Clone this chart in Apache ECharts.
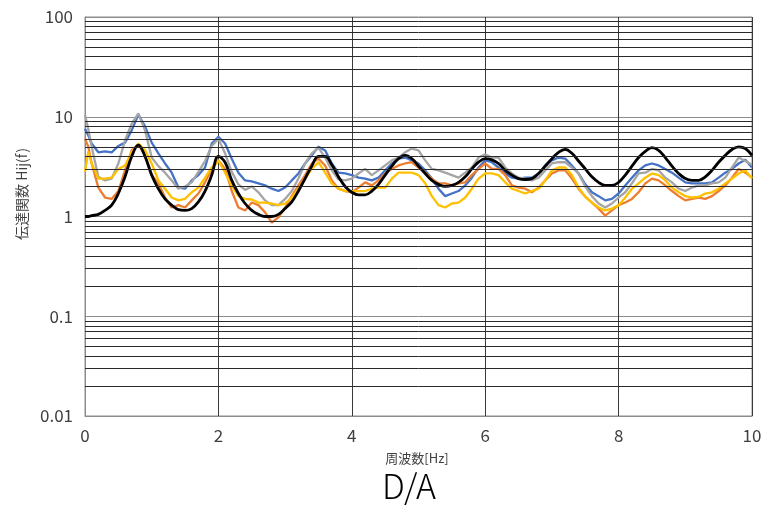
<!DOCTYPE html>
<html><head><meta charset="utf-8">
<script src="https://cdn.jsdelivr.net/npm/echarts@6/dist/echarts.min.js"></script>
<style>html,body{margin:0;padding:0;background:#fff}#c{width:769px;height:505px}</style>
</head><body><div id="c"></div>
<script>
const freq = [0,0.05,0.1,0.2,0.3,0.4,0.5,0.6,0.7,0.8,0.9,1.0,1.1,1.2,1.3,1.4,1.5,1.6,1.7,1.8,1.9,2.0,2.1,2.2,2.3,2.4,2.5,2.6,2.7,2.8,2.9,3.0,3.1,3.2,3.3,3.4,3.5,3.6,3.7,3.8,3.9,4.0,4.1,4.2,4.3,4.4,4.5,4.6,4.7,4.8,4.9,5.0,5.1,5.2,5.3,5.4,5.5,5.6,5.7,5.8,5.9,6.0,6.1,6.2,6.3,6.4,6.5,6.6,6.7,6.8,6.9,7.0,7.1,7.2,7.3,7.4,7.5,7.6,7.7,7.8,7.9,8.0,8.1,8.2,8.3,8.4,8.5,8.6,8.7,8.8,8.9,9.0,9.1,9.2,9.3,9.4,9.5,9.6,9.7,9.8,9.9,10.0];

const blue = [7.6,6.5,5.4,4.4,4.5,4.4,5.1,5.5,7.3,10.5,8.0,5.5,4.3,3.4,2.75,1.95,1.9,2.3,2.6,3.1,5.4,6.3,5.4,3.8,2.75,2.3,2.25,2.15,2.05,1.9,1.8,1.95,2.3,2.7,3.4,4.1,5.0,4.6,3.4,2.75,2.7,2.6,2.45,2.4,2.3,2.45,2.9,3.4,3.8,3.9,3.65,3.4,2.9,2.4,1.9,1.6,1.7,1.8,2.05,2.45,3.1,3.65,3.5,3.1,2.7,2.45,2.4,2.45,2.45,2.7,3.25,3.65,3.9,3.8,3.25,2.7,2.1,1.75,1.6,1.45,1.5,1.7,2.05,2.45,2.9,3.25,3.4,3.25,3.0,2.75,2.45,2.2,2.15,2.15,2.15,2.2,2.45,2.75,3.0,3.4,3.7,3.1];

const orange = [6.0,5.0,3.4,1.95,1.55,1.5,1.8,2.9,4.6,5.3,4.1,2.6,2.15,1.55,1.23,1.3,1.23,1.45,1.7,2.2,3.0,3.65,3.0,1.8,1.23,1.15,1.38,1.3,1.1,0.87,0.98,1.23,1.6,2.05,2.6,3.4,3.8,3.25,2.3,1.9,1.8,1.75,1.95,2.2,2.05,2.3,2.7,3.0,3.25,3.4,3.5,3.1,2.75,2.4,2.15,2.15,2.05,2.15,2.2,2.6,3.0,3.4,3.0,3.0,2.6,2.05,1.95,1.9,1.75,1.95,2.3,2.7,2.9,2.9,2.4,1.9,1.58,1.38,1.2,1.02,1.15,1.3,1.38,1.5,1.75,2.15,2.4,2.3,2.05,1.8,1.6,1.45,1.5,1.55,1.5,1.6,1.8,2.05,2.45,3.0,2.75,2.45];

const gray = [10.5,7.5,5.0,2.5,2.3,2.4,3.4,5.8,8.5,10.8,7.3,3.9,3.2,2.75,2.3,1.9,2.0,2.2,2.8,3.6,5.1,6.0,4.3,2.8,2.1,1.85,2.0,1.75,1.45,1.3,1.3,1.5,1.8,2.4,3.4,4.3,4.9,3.9,2.9,2.35,2.3,2.4,2.7,3.0,2.6,2.9,3.25,3.65,3.9,4.4,4.8,4.6,3.65,3.0,2.9,2.75,2.6,2.45,2.75,3.1,3.9,4.2,3.9,3.9,3.1,2.7,2.45,2.4,2.3,2.45,2.9,3.4,3.5,3.5,3.1,2.7,2.0,1.6,1.35,1.23,1.35,1.55,1.75,2.15,2.7,2.75,3.0,2.9,2.45,2.2,1.9,1.8,1.95,2.05,2.05,2.15,2.2,2.45,3.1,3.9,3.6,3.3];

const yellow = [2.8,4.5,3.4,2.4,2.4,2.45,3.0,3.25,4.4,5.4,4.6,3.4,2.3,1.9,1.55,1.45,1.5,1.75,1.95,2.45,3.1,3.65,2.75,2.05,1.6,1.5,1.48,1.38,1.38,1.35,1.3,1.35,1.55,1.9,2.4,3.0,3.5,2.75,2.15,1.9,1.8,1.8,1.8,1.8,1.9,1.95,1.95,2.4,2.75,2.75,2.75,2.6,2.15,1.6,1.3,1.23,1.35,1.38,1.55,1.9,2.4,2.7,2.7,2.6,2.2,1.9,1.8,1.7,1.8,1.9,2.3,2.9,3.1,3.1,2.6,1.95,1.58,1.38,1.23,1.15,1.2,1.3,1.55,1.9,2.15,2.45,2.7,2.6,2.3,1.95,1.75,1.6,1.55,1.57,1.7,1.75,1.9,2.15,2.4,2.7,2.9,2.4];

const black = [1.0,1.0,1.02,1.05,1.15,1.3,1.7,2.5,4.0,5.2,4.0,2.6,1.9,1.5,1.3,1.17,1.15,1.2,1.4,1.8,2.6,4.0,3.5,2.3,1.7,1.35,1.15,1.05,1.0,1.0,1.05,1.2,1.4,1.8,2.4,3.2,4.0,4.0,3.3,2.5,2.0,1.75,1.65,1.65,1.8,2.1,2.6,3.2,3.8,4.1,3.8,3.2,2.7,2.3,2.1,2.0,2.05,2.2,2.5,3.0,3.5,3.8,3.7,3.4,2.9,2.6,2.4,2.35,2.4,2.7,3.2,3.8,4.4,4.7,4.3,3.6,3.0,2.5,2.2,2.05,2.05,2.2,2.6,3.2,3.9,4.5,4.9,4.6,3.9,3.2,2.7,2.4,2.3,2.3,2.5,2.9,3.5,4.1,4.7,5.0,4.8,4.1];

const minorGrid = [0.02,0.03,0.04,0.05,0.06,0.07,0.08,0.09,0.2,0.3,0.4,0.5,0.6,0.7,0.8,0.9,2,3,4,5,6,7,8,9,20,30,40,50,60,70,80,90];

const xTitle = '周波数[Hz]';
const yTitle = '伝達関数 Hij(f)';
const chartTitle = 'D/A';

function pairs(v){ return freq.map((f,i)=>[f,v[i]]); }
const FONT = '"Noto Sans CJK JP", "Noto Sans", sans-serif';

const chart = echarts.init(document.getElementById('c'), null, {renderer:'canvas'});
const lineSeries = (name, data, color, w, smooth) => ({
  name, type:'line', data: pairs(data), showSymbol:false, symbol:'none', smooth: smooth||false,
  lineStyle:{color, width:w}, itemStyle:{color}, animation:false, z:3
});
chart.setOption({
  animation:false,
  grid:{left:85, right:17, top:17, bottom:89, show:true, borderColor:'#8c8c8c', borderWidth:1},
  xAxis:{type:'value', min:0, max:10, interval:2,
    axisLine:{show:true, lineStyle:{color:'#8c8c8c', width:1}},
    axisTick:{show:false},
    axisLabel:{color:'#404040', fontSize:17, margin:11, fontFamily:FONT},
    splitLine:{show:true, lineStyle:{color:'#3a3a3a', width:1}}
  },
  yAxis:{type:'log', logBase:10, min:0.01, max:100,
    axisLine:{show:true, lineStyle:{color:'#8c8c8c', width:1}},
    axisTick:{show:false},
    axisLabel:{color:'#404040', fontSize:17, margin:12, fontFamily:FONT,
      formatter: v => String(+v.toPrecision(3))},
    splitLine:{show:true, lineStyle:{color:'#8c8c8c', width:1}}
  },
  graphic:[
    {type:'text', x:22, y:194, rotation:Math.PI/2, z:10,
     style:{text:yTitle, fill:'#404040', fontSize:14, fontFamily:FONT, textAlign:'center', textVerticalAlign:'middle'}},
    {type:'text', x:417, y:458, z:10,
     style:{text:xTitle, fill:'#404040', fontSize:13, fontFamily:FONT, textAlign:'center', textVerticalAlign:'middle'}},
    {type:'text', x:409, y:486, z:10,
     style:{text:chartTitle, fill:'#000', fontSize:34, fontWeight:300, fontFamily:FONT, textAlign:'center', textVerticalAlign:'middle'}}
  ],
  series:[
    {type:'line', data:[], silent:true, z:1,
     markLine:{silent:true, symbol:['none','none'], label:{show:false},
       lineStyle:{color:'#2a2a2a', width:1, type:'solid'},
       emphasis:{disabled:true},
       data: minorGrid.map(v=>({yAxis:v}))}},
    lineSeries('s1', blue, '#4472C4', 2.3),
    lineSeries('s2', orange, '#ED7D31', 2.3),
    lineSeries('s3', gray, '#A5A5A5', 2.3),
    lineSeries('s4', yellow, '#FFC000', 2.3),
    lineSeries('s5', black, '#000000', 2.8, 0.4)
  ]
});
</script></body></html>
